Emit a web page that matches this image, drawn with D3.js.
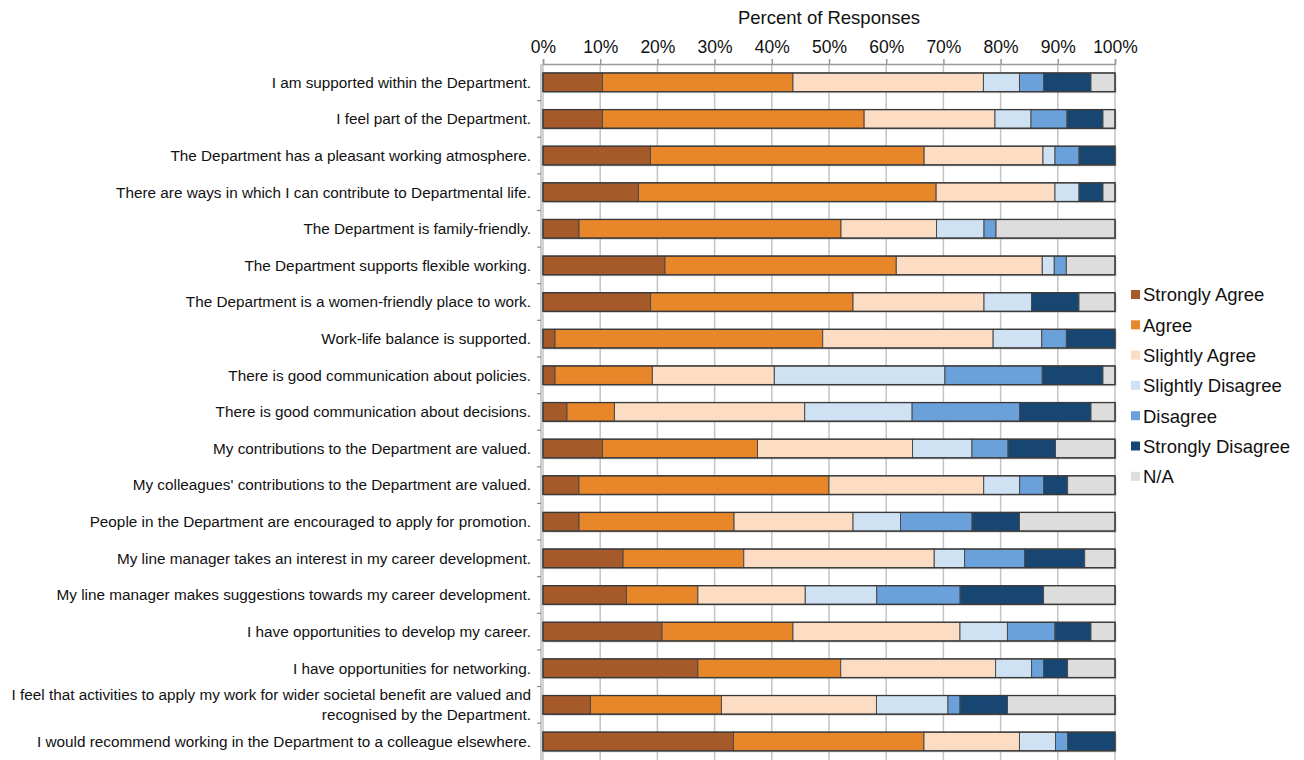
<!DOCTYPE html>
<html>
<head>
<meta charset="utf-8">
<script src="https://cdn.jsdelivr.net/npm/d3@7"></script>
<style>
  html, body { margin: 0; padding: 0; background: #fff; }
  svg { display: block; font-family: "Liberation Sans", Arial, Helvetica, sans-serif; }
</style>
</head>
<body>
<svg id="chart" width="1304" height="760"></svg>
<script>
const categories = [
  "I am supported within the Department.",
  "I feel part of the Department.",
  "The Department has a pleasant working atmosphere.",
  "There are ways in which I can contribute to Departmental life.",
  "The Department is family-friendly.",
  "The Department supports flexible working.",
  "The Department is a women-friendly place to work.",
  "Work-life balance is supported.",
  "There is good communication about policies.",
  "There is good communication about decisions.",
  "My contributions to the Department are valued.",
  "My colleagues' contributions to the Department are valued.",
  "People in the Department are encouraged to apply for promotion.",
  "My line manager takes an interest in my career development.",
  "My line manager makes suggestions towards my career development.",
  "I have opportunities to develop my career.",
  "I have opportunities for networking.",
  "I feel that activities to apply my work for wider societal benefit are valued and\nrecognised by the Department.",
  "I would recommend working in the Department to a colleague elsewhere."
];

const seriesNames = ["Strongly Agree", "Agree", "Slightly Agree", "Slightly Disagree", "Disagree", "Strongly Disagree", "N/A"];
const seriesColors = ["#a65a2a", "#e8862a", "#fcddc4", "#cfe2f3", "#6ba1da", "#184672", "#dddddd"];

const stronglyAgree    = [10.4, 10.4, 18.8, 16.7,  6.3, 21.3, 18.8,  2.1,  2.1,  4.2, 10.4,  6.3,  6.3, 14.0, 14.6, 20.8, 27.1,  8.3, 33.3];
const agree            = [33.3, 45.8, 47.9, 52.1, 45.8, 40.4, 35.4, 46.8, 17.0,  8.3, 27.1, 43.8, 27.1, 21.1, 12.5, 22.9, 25.0, 22.9, 33.3];
const slightlyAgree    = [33.3, 22.9, 20.8, 20.8, 16.7, 25.5, 22.9, 29.8, 21.3, 33.3, 27.1, 27.1, 20.8, 33.3, 18.8, 29.2, 27.1, 27.1, 16.7];
const slightlyDisagree = [ 6.3,  6.3,  2.1,  4.2,  8.3,  2.1,  8.3,  8.5, 29.8, 18.8, 10.4,  6.3,  8.3,  5.3, 12.5,  8.3,  6.3, 12.5,  6.3];
const disagree         = [ 4.2,  6.3,  4.2,  0.0,  2.1,  2.1,  0.0,  4.3, 17.0, 18.8,  6.3,  4.2, 12.5, 10.5, 14.6,  8.3,  2.1,  2.1,  2.1];
const stronglyDisagree = [ 8.3,  6.3,  6.3,  4.2,  0.0,  0.0,  8.3,  8.5, 10.6, 12.5,  8.3,  4.2,  8.3, 10.5, 14.6,  6.3,  4.2,  8.3,  8.3];
const notApplicable    = [ 4.2,  2.1,  0.0,  2.1, 20.8,  8.5,  6.3,  0.0,  2.1,  4.2, 10.4,  8.3, 16.7,  5.3, 12.5,  4.2,  8.3, 18.8,  0.0];

const xTicks = [0, 10, 20, 30, 40, 50, 60, 70, 80, 90, 100];
const axisTitle = "Percent of Responses";

const seriesValues = [stronglyAgree, agree, slightlyAgree, slightlyDisagree, disagree, stronglyDisagree, notApplicable];

const rows = categories.map((c, i) => {
  const r = { category: c };
  seriesNames.forEach((s, j) => { r[s] = seriesValues[j][i]; });
  const total = d3.sum(seriesNames, s => r[s]);
  seriesNames.forEach(s => { r[s] = r[s] / total * 100; });
  return r;
});

const svg = d3.select("#chart");
const plotLeft = 543, plotRight = 1115, plotTop = 64, plotBottom = 760;

const x = d3.scaleLinear().domain([0, 100]).range([plotLeft, plotRight]);
const y = d3.scaleBand().domain(categories)
  .range([plotTop, plotTop + 36.62 * categories.length])
  .paddingInner(0.49).paddingOuter(0.245);

// gridlines
svg.append("g").selectAll("line").data(xTicks).join("line")
  .attr("x1", d => x(d)).attr("x2", d => x(d))
  .attr("y1", plotTop).attr("y2", plotBottom)
  .attr("stroke", "#c4c4c4").attr("stroke-width", 1.5);

// top axis
const xAxis = d3.axisTop(x).tickValues(xTicks).tickFormat(d => d + "%").tickSize(5).tickPadding(6);
const gx = svg.append("g").attr("transform", `translate(0,${plotTop})`).call(xAxis);
gx.select(".domain").attr("stroke", "#999").attr("stroke-width", 1.5);
gx.selectAll(".tick line").attr("stroke", "#999").attr("stroke-width", 1.5);
gx.selectAll(".tick text").attr("fill", "#111").style("font-size", "17.5px").style("font-family", "Liberation Sans, Arial, sans-serif");

svg.append("text").attr("x", (plotLeft + plotRight) / 2).attr("y", 24)
  .attr("text-anchor", "middle").attr("fill", "#111")
  .style("font-size", "18.5px").text(axisTitle);

// left axis line with ticks between categories
svg.append("line").attr("x1", plotLeft - 2).attr("x2", plotLeft - 2).attr("y1", plotTop).attr("y2", plotBottom)
  .attr("stroke", "#aaa").attr("stroke-width", 1.2);
const boundaries = categories.slice(1).map(c => y(c) - (y.step() - y.bandwidth()) / 2);
svg.append("g").selectAll("line").data(boundaries).join("line")
  .attr("x1", plotLeft - 6).attr("x2", plotLeft - 2).attr("y1", d => d).attr("y2", d => d)
  .attr("stroke", "#888").attr("stroke-width", 1.2);

// category labels
const labels = svg.append("g").selectAll("text").data(categories).join("text")
  .attr("x", 531).attr("text-anchor", "end").attr("fill", "#111")
  .style("font-size", "15.3px");
labels.each(function(d) {
  const lines = d.split("\n");
  const cy = y(d) + y.bandwidth() / 2;
  const lh = 20;
  const t = d3.select(this);
  lines.forEach((ln, k) => {
    t.append("tspan").attr("x", 531)
      .attr("y", cy + (k - (lines.length - 1) / 2) * lh)
      .attr("dy", "0.35em").text(ln);
  });
});

// stacked bars
const stacked = d3.stack().keys(seriesNames)(rows);
const color = d3.scaleOrdinal().domain(seriesNames).range(seriesColors);

// shadow
svg.append("g").selectAll("rect").data(categories).join("rect")
  .attr("x", x(0) + 1.5).attr("y", d => y(d) + 1.5)
  .attr("width", x(100) - x(0)).attr("height", y.bandwidth())
  .attr("fill", "#999").attr("opacity", 0.45);

const gs = svg.append("g").selectAll("g").data(stacked).join("g")
  .attr("fill", d => color(d.key));
gs.selectAll("rect").data(d => d.filter(p => p[1] - p[0] > 0.001)).join("rect")
  .attr("x", d => x(d[0]))
  .attr("y", d => y(d.data.category))
  .attr("width", d => x(d[1]) - x(d[0]))
  .attr("height", y.bandwidth())
  .attr("stroke", "#4a4a4a").attr("stroke-width", 1);

// outline
svg.append("g").selectAll("rect").data(categories).join("rect")
  .attr("x", x(0)).attr("y", d => y(d))
  .attr("width", x(100) - x(0)).attr("height", y.bandwidth())
  .attr("fill", "none").attr("stroke", "#3a3a3a").attr("stroke-width", 1.3);

// legend
const legend = svg.append("g").attr("transform", "translate(1131,295)");
const li = legend.selectAll("g").data(seriesNames).join("g")
  .attr("transform", (d, i) => `translate(0,${i * 30.3})`);
li.append("rect").attr("x", 0).attr("y", -5).attr("width", 9).attr("height", 9)
  .attr("fill", d => color(d));
li.append("text").attr("x", 12).attr("y", 0).attr("dy", "0.35em")
  .attr("fill", "#111").style("font-size", "18.5px").text(d => d);
</script>
</body>
</html>
